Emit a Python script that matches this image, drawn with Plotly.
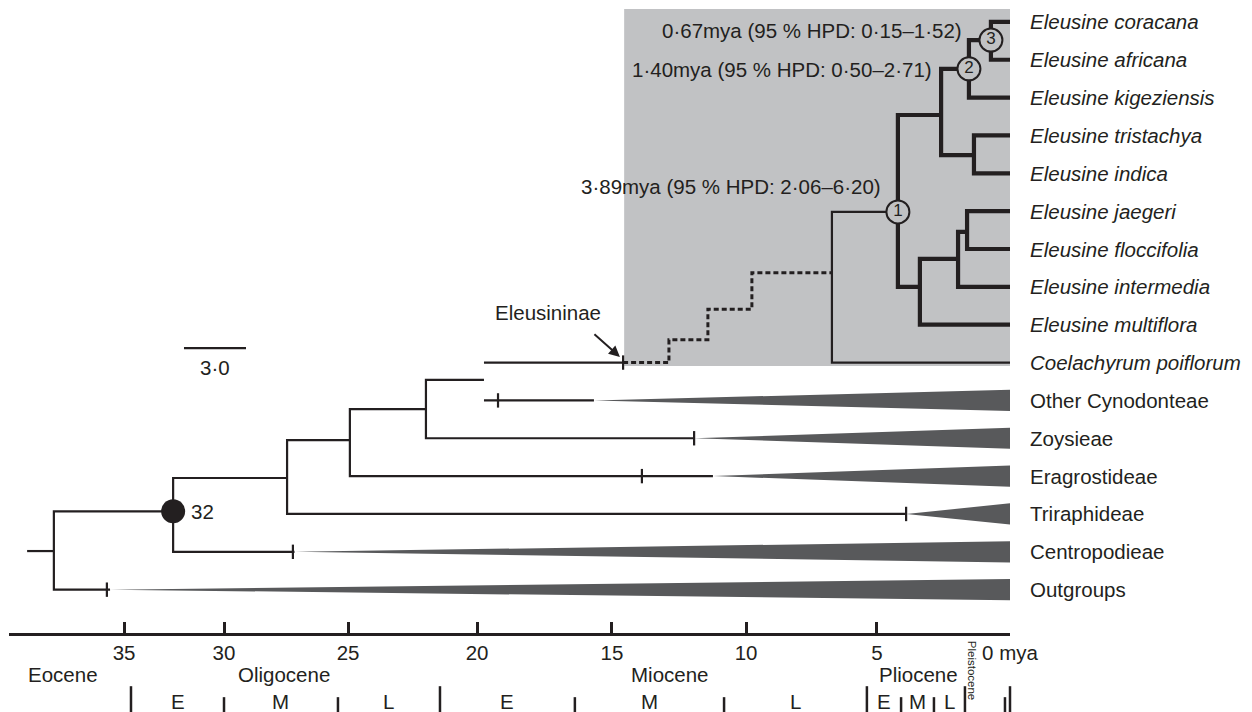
import plotly.graph_objects as go

INK = "#231f20"
BOX = "#c1c2c4"
WEDGE = "#58595b"
FONT = "Liberation Sans, Arial, Helvetica, sans-serif"
FS = 20.5

# ---------------- data ----------------
tip_names = ["Eleusine coracana", "Eleusine africana", "Eleusine kigeziensis",
             "Eleusine tristachya", "Eleusine indica", "Eleusine jaegeri",
             "Eleusine floccifolia", "Eleusine intermedia", "Eleusine multiflora",
             "Coelachyrum poiflorum", "Other Cynodonteae", "Zoysieae",
             "Eragrostideae", "Triraphideae", "Centropodieae", "Outgroups"]
tip_italic = [True] * 10 + [False] * 6
tip_parent = ["n3", "n3", "n2", "nF", "nF", "nI", "nI", "nH", "nG", "crown",
              "nD", "nC", "nB", "nA", "n32", "root"]

node_names = ["root", "n32", "nA", "nB", "nC", "nD", "crown", "n1", "nE",
              "n2", "n3", "nF", "nG", "nH", "nI"]
node_parent = [None, "root", "n32", "nA", "nB", "nC", None, "crown", "n1",
               "nE", "n2", "nE", "n1", "nG", "nH"]
node_age = [36.08, 31.58, 27.28, 24.91, 22.04, 19.85, 6.72, 4.23, 2.60,
            1.55, 0.72, 1.36, 3.40, 1.96, 1.62]
node_row = [13.98, 12.93, 12.05, 11.05, 10.23, 9.46, 6.63, 5.02, 2.46,
            1.24, 0.48, 3.52, 7.00, 6.26, 5.55]
root_stub_age = 37.09

# collapsed clades: tick (stem age) and start of wedge
clade_names = ["Other Cynodonteae", "Zoysieae", "Eragrostideae",
               "Triraphideae", "Centropodieae", "Outgroups"]
clade_tick_age = [19.32, 11.92, 13.89, 3.92, 27.06, 34.08]
clade_wedge_age = [15.70, 11.92, 11.21, 3.92, 27.00, 33.96]

# Eleusininae stem (solid to the tick, then dotted gap to the crown)
eleus_tick_age = 14.60
gap_age = [14.60, 12.87, 12.87, 11.40, 11.40, 9.74, 9.74, 6.72]
gap_row = [9.00, 9.00, 8.40, 8.40, 7.59, 7.59, 6.63, 6.63]

# labelled nodes
circle_nodes = ["n1", "n2", "n3"]
circle_text = ["1", "2", "3"]
hpd_text = ["3·89mya (95 % HPD: 2·06–6·20)",
            "1·40mya (95 % HPD: 0·50–2·71)",
            "0·67mya (95 % HPD: 0·15–1·52)"]
support_node = "n32"
support_text = "32"
scale_bar = [31.17, 28.83]
scale_text = "3·0"

# time axis
tick_pos = [33.43, 29.66, 24.98, 20.11, 15.02, 9.96, 5.02, 0]
tick_text = ["35", "30", "25", "20", "15", "10", "5", "0 mya"]
epoch_names = ["Eocene", "Oligocene", "Miocene", "Pliocene"]
epoch_label_age = [35.74, 27.40, 12.83, 3.47]
major_bounds = [33.17, 21.51, 5.40, 1.70, 0.0]
minor_bounds = [29.66, 25.36, 16.42, 10.79, 4.11, 2.87, 0.19]
stage_names = ["E", "M", "L", "E", "M", "L", "E", "M", "L"]
stage_edges = [33.17, 29.66, 25.36, 21.51, 16.42, 10.79, 5.40, 4.11, 2.87, 1.70]

# ---------------- tree geometry from data ----------------
age = dict(zip(node_names, node_age))
row = dict(zip(node_names, node_row))
par = dict(zip(node_names, node_parent))

children = {n: [] for n in node_names}
for n, p in zip(node_names, node_parent):
    if p:
        children[p].append(("node", n))
for i, p in enumerate(tip_parent):
    children[p].append(("tip", i))

wedge_start = {tip_names.index(c): a for c, a in zip(clade_names, clade_wedge_age)}


def end_of(kind, key):
    if kind == "node":
        return age[key], row[key]
    if key in wedge_start:
        return wedge_start[key], key
    return 0.0, key


def in_subtree(n, anc):
    while n:
        if n == anc:
            return True
        n = par[n]
    return False


thin_x, thin_y, thick_x, thick_y = [], [], [], []
for n in node_names:
    ch = sorted((end_of(k, c) for k, c in children[n]), key=lambda t: t[1])
    xs, ys = [], []
    top, bot = ch[0], ch[-1]
    xs += [top[0], age[n], age[n], bot[0]]
    ys += [top[1], top[1], bot[1], bot[1]]
    for mid in ch[1:-1]:
        xs += [None, age[n], mid[0]]
        ys += [None, mid[1], mid[1]]
    if in_subtree(n, "n1"):
        thick_x += xs + [None]
        thick_y += ys + [None]
    else:
        thin_x += xs + [None]
        thin_y += ys + [None]

# root stub
thin_x += [root_stub_age, age["root"], None]
thin_y += [row["root"], row["root"], None]
# Eleusininae solid stem from nD
thin_x += [age["nD"], eleus_tick_age, None]
thin_y += [gap_row[0], gap_row[0], None]

# short ticks on stems
tk = 0.19
tick_x, tick_y = [], []
for c, a in zip(clade_names, clade_tick_age):
    r = tip_names.index(c)
    tick_x += [a, a, None]
    tick_y += [r - tk, r + tk, None]
tick_x += [eleus_tick_age, eleus_tick_age, None]
tick_y += [gap_row[0] - tk, gap_row[0] + tk, None]

fig = go.Figure()

# highlighted Eleusininae box
fig.add_shape(type="rect", xref="x", yref="y", x0=eleus_tick_age - 0.04, x1=0,
              y0=-0.34, y1=9.09, fillcolor=BOX, line_width=0, layer="below")

# wedges
hw = 0.28
for c, a in zip(clade_names, clade_wedge_age):
    r = tip_names.index(c)
    fig.add_trace(go.Scatter(x=[a, 0, 0, a], y=[r, r - hw, r + hw, r],
                             fill="toself", fillcolor=WEDGE, mode="lines",
                             line=dict(width=0, color=WEDGE), hoverinfo="skip"))

fig.add_trace(go.Scatter(x=thin_x, y=thin_y, mode="lines",
                         line=dict(color=INK, width=2.2), hoverinfo="skip"))
fig.add_trace(go.Scatter(x=thick_x, y=thick_y, mode="lines",
                         line=dict(color=INK, width=4.2), hoverinfo="skip"))
fig.add_trace(go.Scatter(x=tick_x, y=tick_y, mode="lines",
                         line=dict(color=INK, width=2.2), hoverinfo="skip"))
fig.add_trace(go.Scatter(x=gap_age, y=gap_row, mode="lines",
                         line=dict(color=INK, width=3, dash="5px,3px"),
                         hoverinfo="skip"))

# scale bar
fig.add_trace(go.Scatter(x=scale_bar, y=[8.62, 8.62], mode="lines",
                         line=dict(color=INK, width=2.2), hoverinfo="skip"))

# numbered node circles
fig.add_trace(go.Scatter(
    x=[age[n] for n in circle_nodes], y=[row[n] for n in circle_nodes],
    mode="markers+text", text=circle_text, textposition="middle center",
    textfont=dict(family=FONT, size=17, color=INK),
    marker=dict(size=23, color=BOX, line=dict(color=INK, width=2)),
    hoverinfo="skip"))
# support node
fig.add_trace(go.Scatter(x=[age[support_node]], y=[row[support_node]],
                         mode="markers", marker=dict(size=24, color=INK),
                         hoverinfo="skip"))

# dummy trace for the time axis
fig.add_trace(go.Scatter(x=[0, 37], y=[17, 17], xaxis="x2", yaxis="y",
                         mode="markers", marker=dict(opacity=0),
                         hoverinfo="skip"))

ann = []
for i, (name, it) in enumerate(zip(tip_names, tip_italic)):
    ann.append(dict(x=-0.68, y=i, text=f"<i>{name}</i>" if it else name,
                    xanchor="left", yanchor="middle", showarrow=False))
for t, xr, yr in zip(hpd_text, [4.79, 2.87, 1.74], [4.36, 1.27, 0.24]):
    ann.append(dict(x=xr, y=yr, text=t, xanchor="right", yanchor="middle",
                    showarrow=False))
ann.append(dict(x=30.98, y=row[support_node], text=support_text, xanchor="left",
                yanchor="middle", showarrow=False))
ann.append(dict(x=sum(scale_bar) / 2, y=9.12, text=scale_text, xanchor="center",
                yanchor="middle", showarrow=False))
ann.append(dict(x=17.43, y=7.69, text="Eleusininae", xanchor="center",
                yanchor="middle", showarrow=False))
ann.append(dict(x=14.72, y=8.85, text="", showarrow=True, arrowhead=2,
                arrowsize=1.1, arrowwidth=2, arrowcolor=INK, ax=-27, ay=-24,
                standoff=0))
for n, a in zip(epoch_names, epoch_label_age):
    ann.append(dict(x=a, y=17.25, text=n, xanchor="center", yanchor="middle",
                    showarrow=False))
for i, n in enumerate(stage_names):
    ann.append(dict(x=(stage_edges[i] + stage_edges[i + 1]) / 2, y=17.95, text=n,
                    xanchor="center", yanchor="middle", showarrow=False))
ann.append(dict(x=1.43, y=17.12, text="Pleistocene", textangle=90,
                font=dict(size=11.5, family=FONT, color=INK),
                xanchor="center", yanchor="middle", showarrow=False))

for b in major_bounds:
    fig.add_shape(type="line", xref="x", yref="y", x0=b, x1=b, y0=17.55,
                  y1=18.3, line=dict(color=INK, width=2.5))
for b in minor_bounds:
    fig.add_shape(type="line", xref="x", yref="y", x0=b, x1=b, y0=17.84,
                  y1=18.3, line=dict(color=INK, width=2.5))

fig.update_layout(
    template="none",
    width=1252, height=712, autosize=False,
    margin=dict(l=0, r=0, t=0, b=0, pad=0, autoexpand=False),
    paper_bgcolor="white", plot_bgcolor="rgba(0,0,0,0)", showlegend=False,
    font=dict(family=FONT, size=FS, color=INK),
    annotations=ann,
    xaxis=dict(range=[38.113, -9.132], visible=False, domain=[0, 1],
               automargin=False),
    yaxis=dict(range=[18.232, -0.5786], visible=False, domain=[0, 1],
               automargin=False),
    xaxis2=dict(range=[37.774, 0], domain=[9 / 1252, 1010 / 1252],
                anchor="free", position=(712 - 634) / 712, automargin=False,
                tickvals=tick_pos, ticktext=tick_text, ticks="inside",
                ticklen=11, tickwidth=2.5, tickcolor=INK,
                showline=True, linewidth=2.5, linecolor=INK,
                showgrid=False, zeroline=False,
                tickfont=dict(family=FONT, size=FS, color=INK)),
)

fig.write_html(
    "out.html",
    config={"responsive": False, "displayModeBar": False},
    post_script="document.body.style.margin='0';"
                "document.body.style.overflow='hidden';",
)
